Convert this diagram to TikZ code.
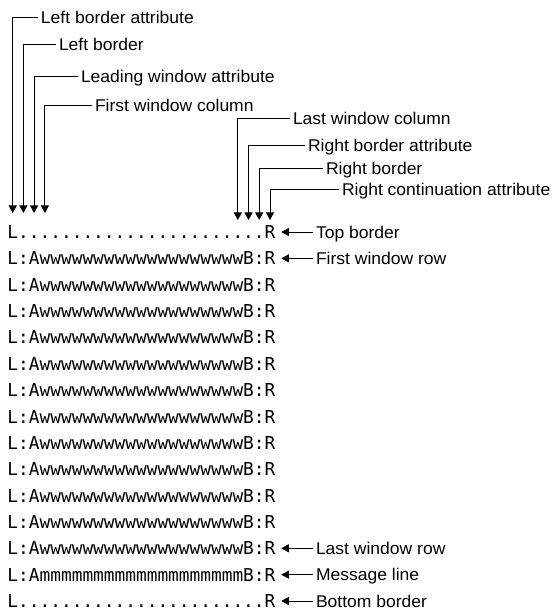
\documentclass[tikz,border=0pt]{standalone}
\usepackage{fontspec}
\setmainfont{Liberation Sans}[FakeStretch=1.03]
\newfontfamily\rowfont{DejaVu Sans Mono}
\usetikzlibrary{arrows.meta}
\begin{document}
\begin{tikzpicture}[x=1pt,y=1pt,
 lbl/.style={font=\fontsize{17}{19}\selectfont, inner sep=0pt, outer xsep=3pt, text height=12.2pt, text depth=0pt, anchor=west},
 rowtxt/.style={font=\rowfont\fontsize{17.8}{20}\selectfont, inner sep=0pt, text height=13pt, text depth=0pt, anchor=west},
 arr/.style={line width=0.9pt, -{Triangle[width=8pt,length=7.5pt]}},
]
\useasboundingbox (0,0) rectangle (558,614);
% rows
\node[rowtxt] (r0) at (7.3,382) {L.......................R};
\foreach \i in {1,...,12}{
  \node[rowtxt] (r\i) at (7.3,{382-26.36*\i}) {L:AwwwwwwwwwwwwwwwwwwwB:R};
}
\node[rowtxt] (r13) at (7.3,{382-26.36*13}) {L:AmmmmmmmmmmmmmmmmmmmB:R};
\node[rowtxt] (r14) at (7.3,{382-26.36*14}) {L.......................R};
% row labels
\node[lbl] (rl0) at (313,382) {Top border};
\node[lbl] (rl1) at (313,{382-26.36}) {First window row};
\node[lbl] (rl12) at (313,{382-26.36*12}) {Last window row};
\node[lbl] (rl13) at (313,{382-26.36*13}) {Message line};
\node[lbl] (rl14) at (313,{382-26.36*14}) {Bottom border};
\foreach \i in {0,1,12,13,14}{
  \draw[arr] (rl\i.west) -- ([xshift=5.7pt]r\i.east);
}
% column tips
\coordinate (c1) at (12.7,401);
\coordinate (c2) at (23.4,401);
\coordinate (c3) at (34.1,401);
\coordinate (c4) at (44.9,401);
\coordinate (c5) at (237.8,394);
\coordinate (c6) at (248.5,394);
\coordinate (c7) at (259.2,394);
\coordinate (c8) at (270,394);
% column labels
\node[lbl] (t1) at (38,597) {Left border attribute};
\node[lbl] (t2) at (56,570) {Left border};
\node[lbl] (t3) at (78,538) {Leading window attribute};
\node[lbl] (t4) at (92,508.5) {First window column};
\node[lbl] (t5) at (290,495.5) {Last window column};
\node[lbl] (t6) at (305,469) {Right border attribute};
\node[lbl] (t7) at (323,446) {Right border};
\node[lbl] (t8) at (339,425) {Right continuation attribute};
\foreach \i in {1,...,8}{
  \draw[arr] (t\i.west) -| (c\i);
}
\end{tikzpicture}
\end{document}
